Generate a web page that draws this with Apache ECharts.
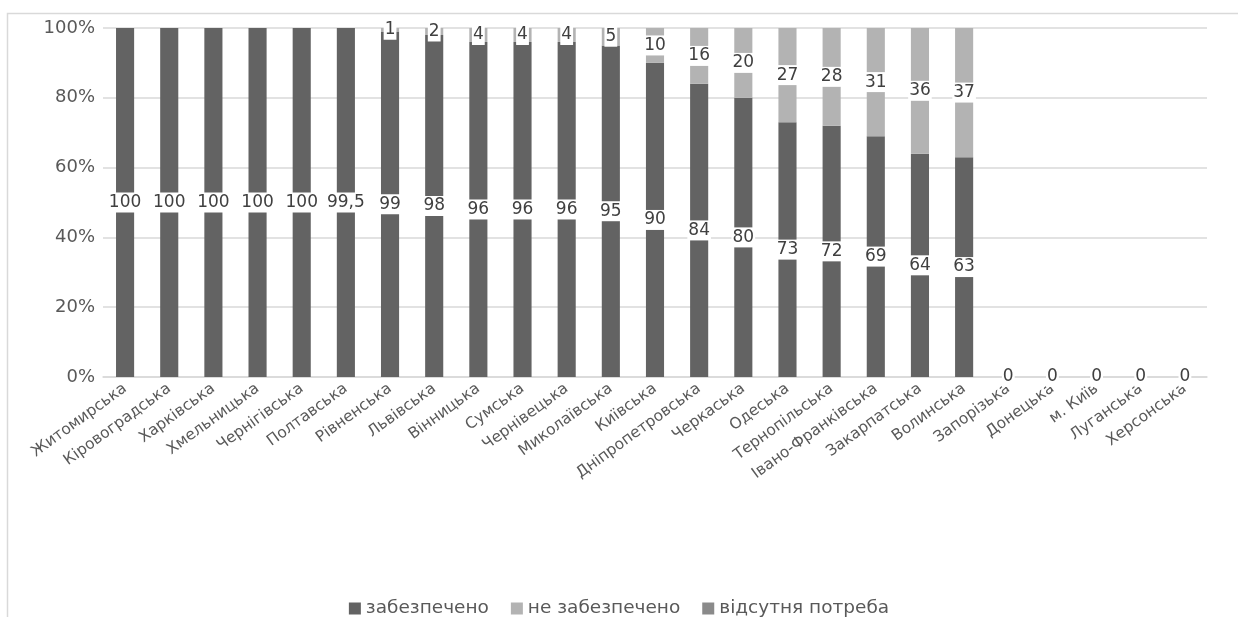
<!DOCTYPE html>
<html>
<head>
<meta charset="utf-8">
<script src="https://cdn.jsdelivr.net/npm/echarts@6/dist/echarts.min.js"></script>
<style>html,body{margin:0;padding:0;background:#fff;}#c{width:1238px;height:617px;}</style>
</head>
<body>
<div id="c"></div>
<script>
const categories = ['Житомирська','Кіровоградська','Харківська','Хмельницька','Чернігівська','Полтавська','Рівненська','Львівська','Вінницька','Сумська','Чернівецька','Миколаївська','Київська','Дніпропетровська','Черкаська','Одеська','Тернопільська','Івано-Франківська','Закарпатська','Волинська','Запорізька','Донецька','м. Київ','Луганська','Херсонська'];
const provided    = [100,100,100,100,100,99.5,99,98,96,96,96,95,90,84,80,73,72,69,64,63,0,0,0,0,0];
const notProvided = [0,0,0,0,0,0,1,2,4,4,4,5,10,16,20,27,28,31,36,37,0,0,0,0,0];
const noNeed      = [0,0,0,0,0,0,0,0,0,0,0,0,0,0,0,0,0,0,0,0,0,0,0,0,0];
const seriesNames = ['забезпечено','не забезпечено','відсутня потреба'];
const yTicks = [0,20,40,60,80,100];

const raw = [provided, notProvided, noNeed];
const totals = categories.map((_, i) => raw.reduce((s, a) => s + a[i], 0));
const pct = raw.map(a => a.map((v, i) => totals[i] ? v / totals[i] * 100 : 0));
const fmt = v => String(v).replace('.', ',');
const colors = ['#636363', '#b3b3b3', '#8a8a8a'];
const FONT = 'DejaVu Sans';

const labelBase = {
  show: true, position: 'inside', color: '#404040', fontSize: 17, fontFamily: FONT,
  backgroundColor: '#ffffff', padding: [2, 1, 1, 1]
};

const series = raw.map((arr, s) => ({
  name: seriesNames[s], type: 'bar', stack: 'total', barWidth: '41%',
  itemStyle: { color: colors[s] },
  data: pct[s].map((p, i) => {
    const showLbl = s === 0 ? true : arr[i] > 0;
    return { value: p, label: { show: showLbl } };
  }),
  label: Object.assign({}, labelBase, {
    formatter: p => fmt(arr[p.dataIndex])
  })
}));

const chart = echarts.init(document.getElementById('c'), null, { renderer: 'canvas' });
chart.setOption({
  animation: false,
  textStyle: { fontFamily: FONT },
  graphic: [{
    type: 'rect', silent: true, z: -1,
    shape: { x: 7.5, y: 13.5, width: 1400, height: 800 },
    style: { fill: 'none', stroke: '#d9d9d9', lineWidth: 1.5 }
  }],
  grid: { left: 103, right: 31, top: 28, bottom: 240, containLabel: false },
  legend: {
    top: 594, left: 'center', itemWidth: 12, itemHeight: 12, itemGap: 22,
    icon: 'rect',
    textStyle: { color: '#595959', fontSize: 18.5, fontFamily: FONT },
    data: seriesNames
  },
  xAxis: {
    type: 'category', data: categories,
    axisLine: { lineStyle: { color: '#d9d9d9', width: 1.5 } },
    axisTick: { show: false },
    axisLabel: { rotate: 36, interval: 0, color: '#595959', fontSize: 15.5, fontFamily: FONT, margin: 10 }
  },
  yAxis: {
    type: 'value', min: yTicks[0], max: yTicks[yTicks.length - 1], interval: yTicks[1] - yTicks[0],
    axisLine: { show: false }, axisTick: { show: false },
    splitLine: { lineStyle: { color: '#d9d9d9', width: 1.5 } },
    axisLabel: { formatter: '{value}%', color: '#595959', fontSize: 18, fontFamily: FONT, margin: 8 }
  },
  series: series
});
</script>
</body>
</html>
